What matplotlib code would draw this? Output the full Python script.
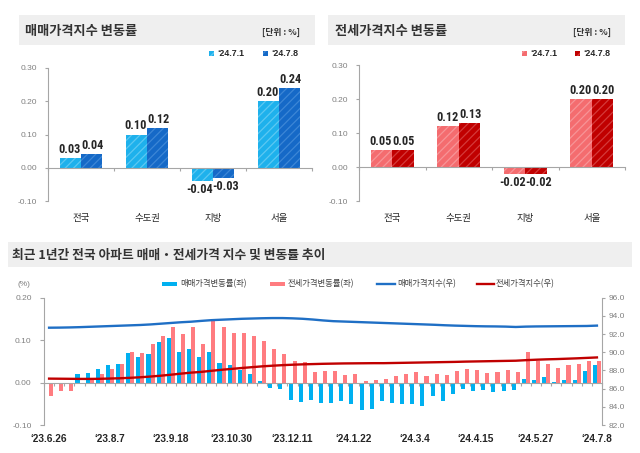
import matplotlib
matplotlib.use('Agg')
import matplotlib.pyplot as plt
from matplotlib import font_manager as fm
from matplotlib.patches import Rectangle
from matplotlib.lines import Line2D
import matplotlib.transforms as mtrans
import numpy as np

# ---------------- data ----------------
regions = ['전국', '수도권', '지방', '서울']
top_dates = ["‘24.7.1", "‘24.7.8"]
sale_rate_0701 = [0.03, 0.10, -0.04, 0.20]
sale_rate_0708 = [0.04, 0.12, -0.03, 0.24]
jeonse_rate_0701 = [0.05, 0.12, -0.02, 0.20]
jeonse_rate_0708 = [0.05, 0.13, -0.02, 0.20]

week_labels = ["‘23.6.26", "‘23.8.7", "‘23.9.18", "‘23.10.30", "‘23.12.11",
               "‘24.1.22", "‘24.3.4", "‘24.4.15", "‘24.5.27", "‘24.7.8"]
sale_weekly = [0.000, 0.000, 0.000, 0.020, 0.022, 0.032, 0.042, 0.043, 0.070, 0.061,
               0.067, 0.095, 0.105, 0.072, 0.079, 0.060, 0.072, 0.046, 0.041, 0.030,
               0.020, 0.004, -0.013, -0.016, -0.040, -0.045, -0.041, -0.049, -0.047, -0.044,
               -0.050, -0.065, -0.063, -0.044, -0.048, -0.050, -0.050, -0.055, -0.031, -0.043,
               -0.028, -0.014, -0.019, -0.018, -0.022, -0.020, -0.017, 0.008, 0.005, 0.013,
               0.001, 0.007, 0.007, 0.028, 0.042]
jeonse_weekly = [-0.031, -0.021, -0.020, -0.002, 0.005, 0.020, 0.032, 0.043, 0.071, 0.069,
                 0.091, 0.110, 0.132, 0.115, 0.130, 0.091, 0.150, 0.132, 0.117, 0.117,
                 0.110, 0.097, 0.080, 0.067, 0.052, 0.048, 0.026, 0.027, 0.027, 0.018,
                 0.020, 0.004, 0.005, 0.009, 0.015, 0.020, 0.026, 0.015, 0.021, 0.017,
                 0.028, 0.031, 0.030, 0.022, 0.024, 0.030, 0.026, 0.071, 0.051, 0.043,
                 0.034, 0.042, 0.043, 0.051, 0.051]
sale_index = [92.70, 92.71, 92.73, 92.76, 92.80, 92.84, 92.88, 92.92, 92.96, 93.00,
              93.06, 93.14, 93.22, 93.30, 93.36, 93.45, 93.53, 93.58, 93.63, 93.68,
              93.71, 93.74, 93.76, 93.76, 93.73, 93.68, 93.60, 93.50, 93.42, 93.38,
              93.34, 93.30, 93.26, 93.22, 93.18, 93.14, 93.10, 93.06, 93.02, 92.97,
              92.93, 92.90, 92.87, 92.85, 92.84, 92.82, 92.78, 92.82, 92.84, 92.85,
              92.86, 92.87, 92.88, 92.89, 92.93]
jeonse_index = [87.10, 87.09, 87.08, 87.07, 87.07, 87.08, 87.11, 87.14, 87.19, 87.25,
                87.33, 87.42, 87.53, 87.65, 87.76, 87.84, 87.96, 88.07, 88.17, 88.27,
                88.36, 88.45, 88.52, 88.58, 88.63, 88.67, 88.70, 88.73, 88.75, 88.77,
                88.78, 88.79, 88.80, 88.80, 88.82, 88.84, 88.86, 88.88, 88.90, 88.92,
                88.94, 88.97, 88.99, 89.01, 89.03, 89.05, 89.07, 89.13, 89.18, 89.22,
                89.25, 89.29, 89.33, 89.38, 89.43]

# ---------------- fonts ----------------
def has_font(name):
    try:
        fm.findfont(fm.FontProperties(family=name), fallback_to_default=False)
        return True
    except Exception:
        return False

KR = 'Noto Sans CJK KR'
SANS = 'Liberation Sans'
NARROW, VAL_SIZE = SANS, 7.2
for cand in ['Liberation Sans Narrow', 'Roboto Condensed', 'DejaVu Sans Condensed',
             'Open Sans Condensed', 'Noto Sans Condensed']:
    if has_font(cand):
        NARROW, VAL_SIZE = cand, 8.8
        break
plt.rcParams['font.family'] = [KR, 'DejaVu Sans']
plt.rcParams['hatch.linewidth'] = 0.9

W, H = 640, 453
fig = plt.figure(figsize=(6.4, 4.53), dpi=100)
fig.patch.set_facecolor('white')

def fx(x):
    return x / W

def fy(y):
    return 1 - y / H

SPINE = '#A6A6A6'
TICKC = '#808080'
DARK = '#262626'
TITLEC = '#333333'
BOXC = '#EFEFEF'

C_LBLUE = '#1EB1EC'
C_DBLUE = '#1569C7'
C_LRED = '#F46C6F'
C_DRED = '#C00000'

# title boxes
for (x0, y0, x1, y1) in [(19, 15, 315, 45), (328, 15, 625, 45), (8, 242, 632, 267)]:
    fig.patches.append(Rectangle((fx(x0), fy(y1)), fx(x1) - fx(x0), fy(y0) - fy(y1),
                                 transform=fig.transFigure, facecolor=BOXC,
                                 edgecolor='none', zorder=0))

fig.text(fx(25), fy(31), '매매가격지수 변동률', fontsize=9.5, fontweight='bold',
         color=TITLEC, ha='left', va='center')
fig.text(fx(335), fy(31), '전세가격지수 변동률', fontsize=9.5, fontweight='bold',
         color=TITLEC, ha='left', va='center')
fig.text(fx(300), fy(32), '[단위 : %]', fontsize=6.3, fontweight='bold',
         color=TITLEC, ha='right', va='center')
fig.text(fx(611), fy(32), '[단위 : %]', fontsize=6.3, fontweight='bold',
         color=TITLEC, ha='right', va='center')
fig.text(fx(12), fy(255), '최근 1년간 전국 아파트 매매・전세가격 지수 및 변동률 추이',
         fontsize=9.2, fontweight='bold', color=TITLEC, ha='left', va='center')

# top legends
def square_legend(x, y, color, hatchc, label):
    fig.patches.append(Rectangle((fx(x), fy(y + 2.5)), 5 / W, 5 / H,
                                 transform=fig.transFigure, facecolor=color,
                                 edgecolor=hatchc, linewidth=0, hatch='////'))
    fig.text(fx(x + 8), fy(y), label, fontsize=6.4, fontweight='bold', family=SANS,
             color=DARK, ha='left', va='center')

square_legend(209, 53, C_LBLUE, '#5CC8F2', top_dates[0])
square_legend(263, 53, C_DBLUE, '#3C86D6', top_dates[1])
square_legend(522, 53, C_LRED, '#F79497', top_dates[0])
square_legend(575, 53, C_DRED, '#D43A3A', top_dates[1])


def top_panel(rect, v1, v2, c1, c2, h1, h2):
    ax = fig.add_axes(rect)
    x = np.arange(len(regions))
    w = 0.325
    ax.bar(x - w / 2, v1, width=w, color=c1, edgecolor=h1, linewidth=0, hatch='////', zorder=2)
    ax.bar(x + w / 2, v2, width=w, color=c2, edgecolor=h2, linewidth=0, hatch='////', zorder=2)
    ax.set_xlim(-0.5, 3.5)
    ax.set_ylim(-0.10, 0.30)
    for s in ['top', 'right']:
        ax.spines[s].set_visible(False)
    ax.spines['left'].set_color(SPINE)
    ax.spines['left'].set_linewidth(0.8)
    ax.spines['bottom'].set_position(('data', 0))
    ax.spines['bottom'].set_color(SPINE)
    ax.spines['bottom'].set_linewidth(0.8)
    ax.set_yticks([-0.10, 0.00, 0.10, 0.20, 0.30])
    ax.set_yticklabels(['-0.10', '0.00', '0.10', '0.20', '0.30'])
    ax.tick_params(axis='y', length=2.2, width=0.8, color=SPINE, pad=5.5,
                   labelsize=6, labelcolor=TICKC)
    for lab in ax.get_yticklabels():
        lab.set_family(SANS)
    ax.set_xticks(np.arange(-0.5, 4.0, 1.0))
    ax.set_xticklabels([])
    ax.tick_params(axis='x', length=2.2, width=0.8, color=SPINE, direction='out')
    ax.patch.set_alpha(0)
    trans = mtrans.blended_transform_factory(ax.transData, fig.transFigure)
    for i, r in enumerate(regions):
        ax.text(i, fy(218), r, transform=trans, fontsize=6.8, color=DARK,
                ha='center', va='center', fontweight='medium')
    for side, xs, vals in [(-1, x - w / 2, v1), (1, x + w / 2, v2)]:
        for xi, v in zip(xs, vals):
            if v >= 0:
                ax.annotate(f'{v:.2f}', (xi, v), xytext=(0.5 * side, 1.5),
                            textcoords='offset points',
                            ha='center', va='bottom', fontsize=VAL_SIZE, fontweight='bold',
                            family=NARROW, color=DARK)
            else:
                ax.annotate(f'{v:.2f}', (xi, v), xytext=(1.6 * side, -1.5),
                            textcoords='offset points',
                            ha='center', va='top', fontsize=VAL_SIZE, fontweight='bold',
                            family=NARROW, color=DARK)
    return ax

top_panel([fx(48), fy(201), fx(312) - fx(48), fy(68) - fy(201)],
          sale_rate_0701, sale_rate_0708, C_LBLUE, C_DBLUE, '#5CC8F2', '#3C86D6')
top_panel([fx(359), fy(201), fx(625) - fx(359), fy(65) - fy(201)],
          jeonse_rate_0701, jeonse_rate_0708, C_LRED, C_DRED, '#F79497', '#D43A3A')

# ---------------- bottom chart ----------------
B_BLUE = '#00B0F0'
B_RED = '#FF7C80'
L_BLUE = '#1F6FC5'
L_RED = '#C00000'

ax = fig.add_axes([fx(44), fy(425), fx(602) - fx(44), fy(297.7) - fy(425)])
n = len(sale_weekly)
xi = np.arange(n)
ax.bar(xi - 0.2, sale_weekly, width=0.4, color=B_BLUE, linewidth=0, zorder=2)
ax.bar(xi + 0.2, jeonse_weekly, width=0.4, color=B_RED, linewidth=0, zorder=2)
ax.set_xlim(-0.5, n - 0.5)
ax.set_ylim(-0.10, 0.20)
for s in ['top', 'right']:
    ax.spines[s].set_visible(False)
ax.spines['left'].set_color(SPINE)
ax.spines['left'].set_linewidth(0.8)
ax.spines['bottom'].set_position(('data', 0))
ax.spines['bottom'].set_color(SPINE)
ax.spines['bottom'].set_linewidth(0.8)
ax.set_yticks([-0.10, 0.00, 0.10, 0.20])
ax.set_yticklabels(['-0.10', '0.00', '0.10', '0.20'])
ax.tick_params(axis='y', length=2.6, width=0.8, color=SPINE, pad=6.3,
               labelsize=6, labelcolor=TICKC)
for lab in ax.get_yticklabels():
    lab.set_family(SANS)
ax.set_xticks(np.arange(-0.5, n, 1.0))
ax.set_xticklabels([])
ax.tick_params(axis='x', length=2.4, width=0.8, color=SPINE, direction='out')

ax2 = ax.twinx()
ax2.plot(xi, sale_index, color=L_BLUE, linewidth=1.7, zorder=3)
ax2.plot(xi, jeonse_index, color=L_RED, linewidth=1.7, zorder=3)
ax2.set_ylim(82.0, 96.0)
ax2.set_yticks(np.arange(82.0, 96.1, 2.0))
ax2.set_yticklabels([f'{v:.1f}' for v in np.arange(82.0, 96.1, 2.0)])
for s in ['top', 'left', 'bottom']:
    ax2.spines[s].set_visible(False)
ax2.spines['right'].set_color(SPINE)
ax2.spines['right'].set_linewidth(0.8)
ax2.tick_params(axis='y', length=2.4, width=0.8, color=SPINE, pad=2.5,
                labelsize=6, labelcolor=TICKC)
for lab in ax2.get_yticklabels():
    lab.set_family(SANS)

trans = mtrans.blended_transform_factory(ax.transData, fig.transFigure)
for k, lab in enumerate(week_labels):
    ax.text(k * 6, fy(439), lab, transform=trans, fontsize=7.3, fontweight='bold',
            family=SANS, color=DARK, ha='center', va='center')

# bottom legend
fig.text(fx(18), fy(284), '(%)', fontsize=6, color=TICKC, family=SANS,
         ha='left', va='center')
fig.patches.append(Rectangle((fx(162), fy(286.3)), 15 / W, 4.5 / H,
                             transform=fig.transFigure, facecolor=B_BLUE, edgecolor='none'))
fig.text(fx(180), fy(284), '매매가격변동률(좌)', fontsize=6, color='#404040',
         ha='left', va='center')
fig.patches.append(Rectangle((fx(270), fy(286.3)), 15 / W, 4.5 / H,
                             transform=fig.transFigure, facecolor=B_RED, edgecolor='none'))
fig.text(fx(288), fy(284), '전세가격변동률(좌)', fontsize=6, color='#404040',
         ha='left', va='center')
fig.lines.append(Line2D([fx(377), fx(395)], [fy(284), fy(284)], transform=fig.transFigure,
                        color=L_BLUE, linewidth=1.7))
fig.text(fx(397), fy(284), '매매가격지수(우)', fontsize=6, color='#404040',
         ha='left', va='center')
fig.lines.append(Line2D([fx(477), fx(494)], [fy(284), fy(284)], transform=fig.transFigure,
                        color=L_RED, linewidth=1.7))
fig.text(fx(496), fy(284), '전세가격지수(우)', fontsize=6, color='#404040',
         ha='left', va='center')

fig.savefig('out.png', dpi=100)
